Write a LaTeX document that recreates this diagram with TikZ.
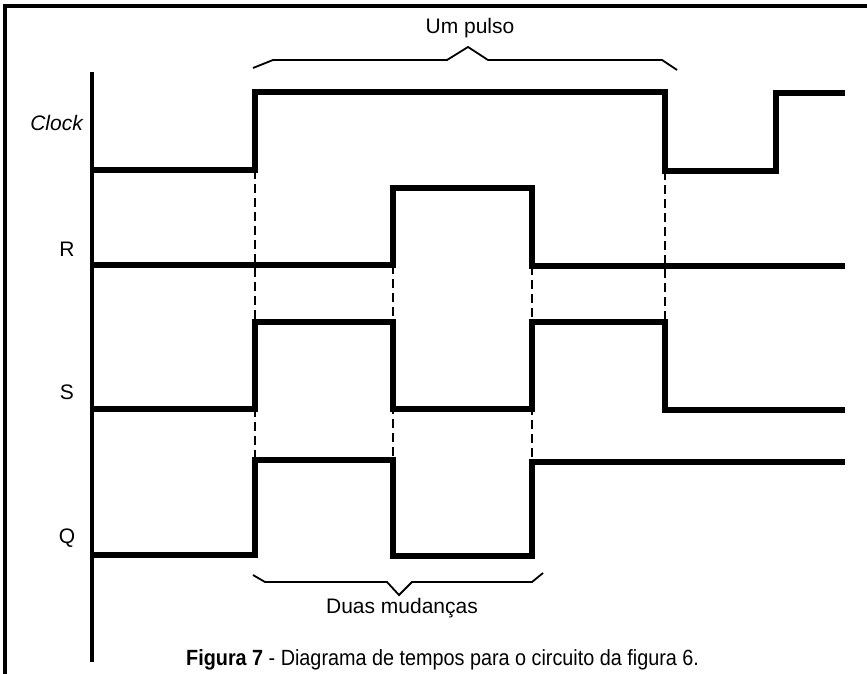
\documentclass[tikz,border=0pt]{standalone}
\usepackage{fontspec}
\setmainfont{Liberation Sans}
\newfontfamily\capfont[FakeStretch=0.9]{Liberation Sans}
\usetikzlibrary{positioning}

\begin{document}
\begin{tikzpicture}[
  x=1pt, y=-1pt,
  every node/.style={inner sep=0pt},
  wave/.style={line width=6pt, line join=miter},
  guide/.style={line width=2pt, dash pattern=on 9pt off 5pt},
  brace/.style={line width=1.8pt, line join=miter},
  sig/.style={font=\fontsize{21}{24}\selectfont},
  note/.style={font=\fontsize{21}{24}\selectfont}
]
\useasboundingbox (0,0) rectangle (867,674);
% frame and time axis
\draw[line width=3.5pt] (5,674) -- (5,6) -- (867,6);
\draw[line width=3.5pt] (92,72) -- (92,662);

% signal names
\node[sig, anchor=east] (clk) at (83,123) {\itshape Clock};
\node[sig] (r) at (67,249) {R};
\node[sig] (s) at (67,392) {S};
\node[sig] (q) at (67,538) {Q};

% waveforms
\draw[wave] (92,170) -- (255,170) -- (255,92) -- (665,92) -- (665,171) -- (776,171) -- (776,93) -- (845,93);
\draw[wave] (92,265) -- (393,265) -- (393,188) -- (532,188) -- (532,266) -- (845,266);
\draw[wave] (92,409) -- (255,409) -- (255,322) -- (393,322) -- (393,409) -- (532,409) -- (532,322) -- (665,322) -- (665,410) -- (845,410);
\draw[wave] (92,555) -- (255,555) -- (255,460) -- (393,460) -- (393,556) -- (532,556) -- (532,462) -- (845,462);

% dashed guides between the edges
\draw[guide] (255,170) -- (255,460);
\draw[guide] (393,265) -- (393,460);
\draw[guide] (532,266) -- (532,462);
\draw[guide] (665,171) -- (665,322);

% braces
\draw[brace] (253,68) -- (273,60) -- (447,60) -- (468,47) -- (488,60) -- (662,60) -- (677,70);
\node[note] (pulso) at (470,28) {Um pulso};
\draw[brace] (253,575) -- (265,582) -- (387,582) -- (399,595) -- (412,582) -- (532,582) -- (543,573);
\node[note] (mudancas) at (402,608) {Duas mudanças};

% caption
\node[anchor=base west, font=\capfont\fontsize{22}{26}\selectfont] (caption) at (186,665)
  {\textbf{Figura 7} - Diagrama de tempos para o circuito da figura 6.};
\end{tikzpicture}
\end{document}
